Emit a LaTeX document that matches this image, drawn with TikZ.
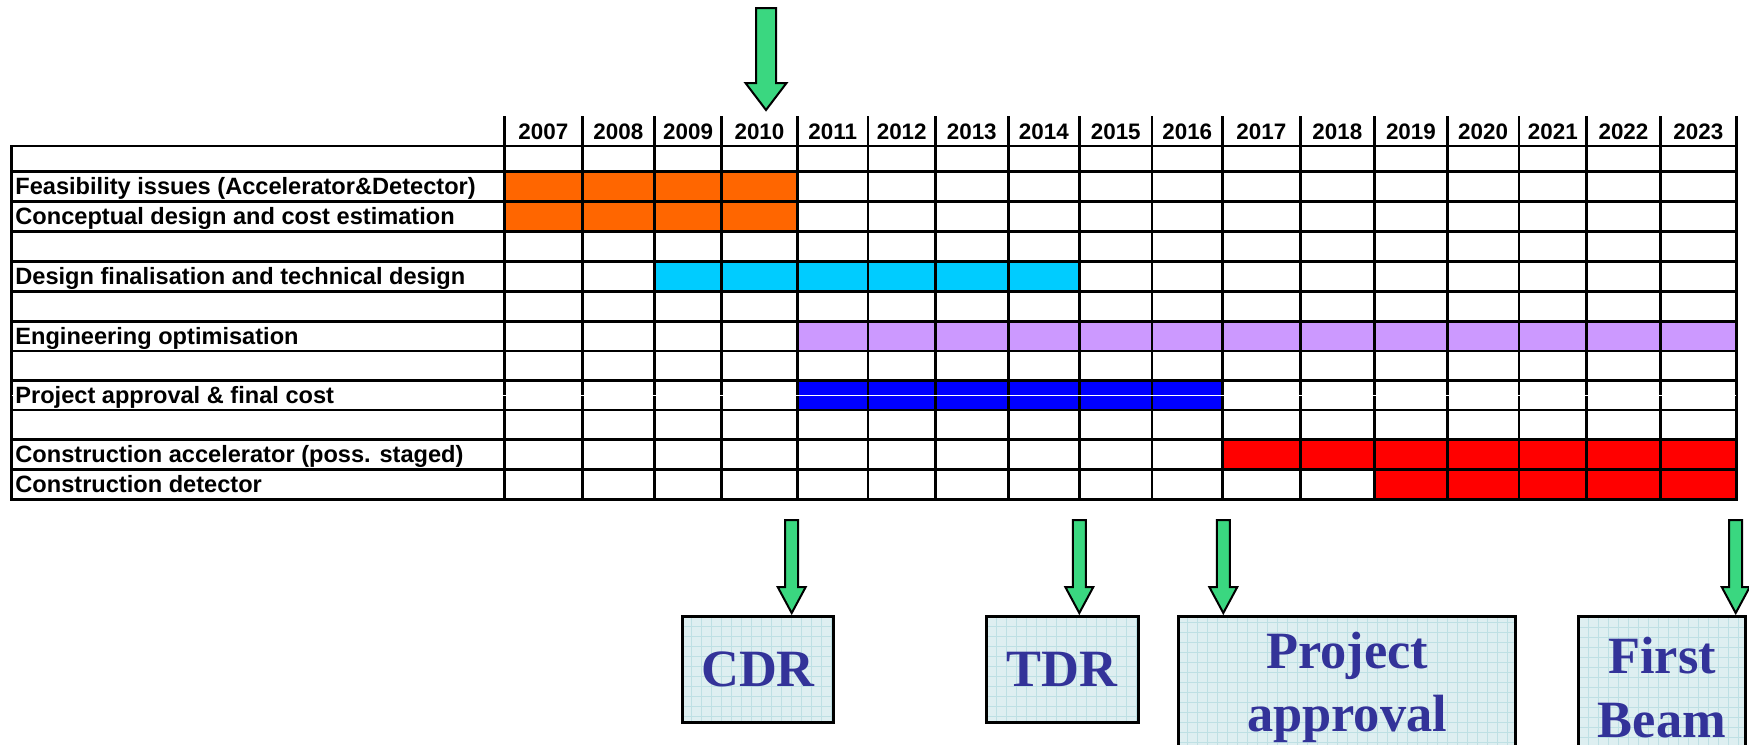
\documentclass[tikz,border=0pt]{standalone}
\usepackage{fontspec}
\setmainfont{Liberation Sans}
\newfontfamily\tnr{Liberation Serif}
\definecolor{barorange}{RGB}{255,102,0}
\definecolor{barcyan}{RGB}{0,204,255}
\definecolor{barlav}{RGB}{204,153,255}
\definecolor{barblue}{RGB}{0,0,255}
\definecolor{barred}{RGB}{255,0,0}
\definecolor{arrowgreen}{RGB}{58,215,128}
\definecolor{boxfill}{RGB}{222,239,241}
\definecolor{boxgrid}{RGB}{190,224,228}
\definecolor{boxtext}{RGB}{51,51,153}
\newcommand\greenarrow[5]{%
  \filldraw[garrow, shift={(#1)}] (-#4,-#2) -- (#4,-#2) -- (#4,-#3) -- (#5,-#3) -- (0,0) -- (-#5,-#3) -- (-#4,-#3) -- cycle;}
\begin{document}
\begin{tikzpicture}[x=0.5pt,y=-0.5pt,
  gridline/.style={line width=1.4pt, line cap=rect, black},
  rowlabel/.style={anchor=base west, inner sep=0pt, font=\fontsize{11.8}{13}\selectfont\bfseries},
  yearlabel/.style={anchor=base, inner sep=0pt, font=\fontsize{11.2}{13}\selectfont\bfseries},
  msbox/.style={draw=black, line width=1.5pt, fill=boxfill, inner sep=0pt, align=center,
    font=\tnr\bfseries\fontsize{26.2}{31.7}\selectfont, text=boxtext,
    path picture={\draw[boxgrid, line width=0.3pt, step=5pt] (path picture bounding box.south west) grid (path picture bounding box.north east);}},
  garrow/.style={fill=arrowgreen, draw=black, line width=1pt, line join=miter}]
\useasboundingbox (0,0) rectangle (1749,744);
\clip (0,0) rectangle (1749,744);

% bars
\fill[barorange] (504.6,171.7) rectangle (797.4,231.7);
\fill[barcyan] (654.6,261.7) rectangle (1079.6,291.7);
\fill[barlav] (797.4,321.5) rectangle (1736.3,351);
\fill[barblue] (797.4,380.5) rectangle (1222.6,410);
\fill[barred] (1222.6,439.5) rectangle (1736.3,469.3);
\fill[barred] (1374.6,469.3) rectangle (1736.3,499.3);

% grid
\foreach \y in {146,171.7,201.7,231.7,261.7,291.7,321.5,351,380.5,410,439.5,469.3,499.3}
  \draw[gridline] (11.5,\y) -- (1736.3,\y);
\draw[gridline] (11.5,146) -- (11.5,499.3);
\foreach \x in {504.6,582.2,654.6,721.5,797.4,868,935.4,1008.1,1079.6,1151.9,1222.6,1300.1,1374.6,1447.2,1519,1586.6,1660.3,1736.3}
  \draw[gridline] (\x,117) -- (\x,499.3);
\draw[white, line width=0.5pt] (11.5,395.3) -- (1736.3,395.3);

% years
\foreach \yr/\cx in {2007/543.4,2008/618.4,2009/688.05,2010/759.45,2011/832.7,2012/901.7,2013/971.75,2014/1043.85,2015/1115.75,2016/1187.25,2017/1261.35,2018/1337.35,2019/1410.9,2020/1483.1,2021/1552.8,2022/1623.45,2023/1698.3}
  \node[yearlabel] (y\yr) at (\cx,139.3) {\yr};

% row labels
\node[rowlabel] (feas) at (15,194.9) {Feasibility issues (Accelerator\&Detector)};
\node[rowlabel] (concept) at (15,224.9) {Conceptual design and cost estimation};
\node[rowlabel] (design) at (15,284.9) {Design finalisation and technical design};
\node[rowlabel] (engin) at (15,344.4) {Engineering optimisation};
\node[rowlabel] (approv) at (15,403.4) {Project approval \& final cost};
\node[rowlabel] (consacc) at (15,462.6) {Construction accelerator (poss. staged)};
\node[rowlabel] (consdet) at (15,492.5) {Construction detector};

% milestone boxes
\node[msbox, minimum width=75.5pt, minimum height=53pt] (cdr) at (758,669) {CDR};
\node[msbox, minimum width=76pt, minimum height=53pt] (tdr) at (1062,669) {TDR};
\node[msbox, minimum width=168.9pt, minimum height=71.5pt] (pa) at (1347,687.5) {Project\\approval};
\node[msbox, minimum width=83.7pt, minimum height=71.5pt] (fb) at (1662,687.5) {First\\Beam};

% arrows
\coordinate (toptip) at (766,110);
\coordinate (cdrtip) at (791.7,613);
\coordinate (tdrtip) at (1079.3,613);
\coordinate (patip) at (1223.3,613);
\coordinate (fbtip) at (1735.7,613);
\greenarrow{toptip}{102}{27}{10}{20.5}
\greenarrow{cdrtip}{93}{26}{6.5}{14}
\greenarrow{tdrtip}{93}{26}{6.5}{14}
\greenarrow{patip}{93}{26}{6.5}{14}
\greenarrow{fbtip}{93}{26}{6.5}{14}
\end{tikzpicture}
\end{document}
